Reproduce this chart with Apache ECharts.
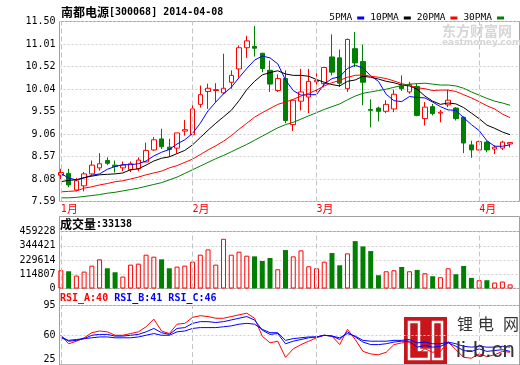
<!DOCTYPE html>
<html><head><meta charset="utf-8">
<script src="https://cdn.jsdelivr.net/npm/echarts@6/dist/echarts.min.js"></script>
<style>html,body{margin:0;padding:0;background:#fff}#c{width:520px;height:365px}</style>
</head><body><div id="c"></div>
<script>
// ---------- DATA ----------
const stockName = '南都电源';
const stockCode = '300068';
const chartDate = '2014-04-08';
const dates = [
 '2014-01-08','2014-01-09','2014-01-10','2014-01-13','2014-01-14','2014-01-15','2014-01-16','2014-01-17','2014-01-20','2014-01-21',
 '2014-01-22','2014-01-23','2014-01-24','2014-01-27','2014-01-28','2014-01-29','2014-01-30',
 '2014-02-07','2014-02-10','2014-02-11','2014-02-12','2014-02-13','2014-02-14','2014-02-17','2014-02-18','2014-02-19',
 '2014-02-20','2014-02-21','2014-02-24','2014-02-25','2014-02-26','2014-02-27','2014-02-28',
 '2014-03-03','2014-03-04','2014-03-05','2014-03-06','2014-03-07','2014-03-10','2014-03-11','2014-03-12','2014-03-13',
 '2014-03-14','2014-03-17','2014-03-18','2014-03-19','2014-03-20','2014-03-21','2014-03-24','2014-03-25','2014-03-26',
 '2014-03-27','2014-03-28','2014-03-31',
 '2014-04-01','2014-04-02','2014-04-03','2014-04-04','2014-04-08'
];
const opens  = [8.16,8.20,7.84,7.93,8.19,8.32,8.48,8.38,8.32,8.28, 8.30,8.45,8.71,8.95,8.77,8.75,9.12,9.04,9.70,9.98,
                10.00,9.95,10.18,10.47,10.93,10.96,10.81,10.44,10.00,10.26, 9.26,9.77,9.86,10.19,10.15,10.73,10.71,10.04,10.91,10.63,
                9.59,9.62,9.55,9.60,10.10,9.97,10.09,9.39,9.65,9.51, 9.69,9.62,9.42,8.82,8.71,8.88,8.73,8.75,8.84];
const closes = [8.22,7.95,8.04,8.19,8.38,8.41,8.42,8.35,8.38,8.41, 8.49,8.70,8.93,8.78,8.72,9.08,9.15,9.60,9.91,10.05,
                10.02,10.05,10.33,10.93,11.08,10.92,10.48,10.14,10.26,9.35, 9.79,9.97,10.20,10.22,10.50,10.40,10.16,11.11,10.60,10.18,
                9.57,9.55,9.70,9.92,10.04,10.13,9.46,9.64,9.50,9.53, 9.79,9.39,8.86,8.71,8.89,8.71,8.77,8.88,8.87];
const lows   = [8.08,7.90,7.81,7.81,8.17,8.26,8.38,8.22,8.25,8.23, 8.25,8.44,8.69,8.73,8.56,8.64,9.02,9.02,9.63,9.60,
                9.75,9.92,10.04,10.28,10.71,10.74,10.40,9.97,9.97,9.29, 9.12,9.57,9.51,9.97,10.07,10.33,10.08,9.97,10.51,9.68,
                9.20,9.33,9.51,9.53,9.99,9.93,9.44,9.24,9.46,9.31, 9.64,9.35,8.64,8.54,8.70,8.66,8.62,8.71,8.76];
const highs  = [8.30,8.30,8.10,8.23,8.48,8.64,8.55,8.48,8.46,8.46, 8.55,8.87,8.99,9.17,8.95,9.08,9.36,9.76,10.11,10.15,
                10.16,10.80,10.44,10.98,11.19,11.40,10.82,10.65,10.35,10.44, 9.79,10.47,10.47,10.44,10.51,11.22,10.89,11.13,11.27,11.00,
                9.81,9.65,9.79,10.02,10.33,10.19,10.15,9.75,9.71,9.58, 10.02,9.64,9.44,8.91,8.91,8.91,8.81,8.91,8.87];
const volumes = [146850,138840,104130,136170,184230,234960,162870,130830,96120,192240,
                 200250,272340,256320,234960,162870,176220,184230,216270,272340,315060,
                 192240,400500,272340,296370,264330,258990,221610,245640,154860,309720,
                 258990,307050,178890,162870,216270,285690,186900,283020,381810,339090,
                 301710,106800,138840,146850,173550,138840,149520,122820,98790,90780,
                 162870,114810,181560,85440,66750,66750,48060,56070,33138];
const ma5  = [8.20,8.10,8.06,8.10,8.16,8.19,8.29,8.35,8.39,8.39, 8.41,8.47,8.58,8.66,8.72,8.84,8.93,9.07,9.29,9.56,
              9.75,9.93,10.07,10.28,10.48,10.66,10.75,10.71,10.58,10.23, 10.00,9.90,9.91,9.91,10.14,10.26,10.30,10.48,10.55,10.49,
              10.32,10.20,9.92,9.78,9.76,9.87,9.85,9.84,9.75,9.65, 9.58,9.57,9.41,9.26,9.13,8.91,8.79,8.79,8.82];
const ma10 = [8.02,8.05,8.06,8.11,8.14,8.17,8.18,8.19,8.21,8.28, 8.30,8.38,8.47,8.53,8.56,8.63,8.70,8.82,8.98,9.14,
              9.29,9.43,9.57,9.78,10.02,10.20,10.34,10.39,10.43,10.36, 10.33,10.33,10.31,10.24,10.18,10.13,10.10,10.20,10.23,10.31,
              10.29,10.25,10.20,10.17,10.12,10.10,10.03,9.88,9.77,9.70, 9.73,9.71,9.63,9.51,9.39,9.25,9.18,9.10,9.04];
const ma20 = [7.80,7.81,7.82,7.88,7.91,7.95,7.98,8.02,8.04,8.08, 8.12,8.17,8.21,8.25,8.32,8.37,8.44,8.51,8.61,8.71,
              8.80,8.90,9.02,9.16,9.29,9.42,9.52,9.61,9.70,9.75, 9.81,9.88,9.94,10.01,10.10,10.17,10.22,10.29,10.33,10.34,
              10.31,10.29,10.26,10.21,10.15,10.11,10.06,10.04,10.00,10.01, 10.01,9.98,9.91,9.84,9.76,9.67,9.60,9.49,9.41];
const ma30 = [7.67,7.67,7.68,7.70,7.72,7.74,7.77,7.79,7.82,7.85, 7.88,7.92,7.96,8.00,8.06,8.12,8.20,8.28,8.36,8.44,
              8.52,8.59,8.67,8.75,8.83,8.92,9.01,9.10,9.19,9.26, 9.31,9.38,9.45,9.52,9.59,9.65,9.71,9.80,9.88,9.94,
              9.97,10.00,10.03,10.07,10.11,10.14,10.15,10.16,10.14,10.12, 10.12,10.10,10.05,9.97,9.90,9.83,9.77,9.73,9.68];
const rsiA = [60,50,53,57,63,65,64,60,60,62, 64,70,79,65,62,73,74,81,83,82, 80,80,82,84,86,80,59,51,53,34,
              44,49,53,57,60,59,49,67,55,41, 38,37,40,49,51,52,38,44,40,41, 52,43,34,33,38,35,37,41,40];
const rsiB = [59,53,54,56,60,61,61,59,59,60, 61,64,68,63,61,68,69,74,76,76, 75,76,78,80,82,78,66,61,62,50,
              53,55,57,58,60,59,55,64,58,52, 49,49,50,52,53,53,46,48,46,47, 51,47,42,41,44,41,42,43,41];
const rsiC = [57,54,55,56,57,58,58,57,57,57, 58,60,62,60,60,64,65,68,69,69, 69,70,71,73,74,73,67,63,63,54,
              56,57,58,58,60,59,57,62,59,54, 53,53,53,54,54,55,51,52,50,50, 52,50,47,46,47,46,46,47,46];
const priceTicks = ['7.59','8.08','8.57','9.06','9.55','10.04','10.52','11.01','11.50'];
const volTicks = [0,114807,229614,344421,459228];
const rsiTicks = ['25','60','95'];
const monthStarts = ['2014-01-08','2014-02-07','2014-03-03','2014-04-01'];
const monthLabels = ['1月','2月','3月','4月'];
const maNames = ['5PMA','10PMA','20PMA','30PMA'];

// ---------- CHART ----------
const GRAY = '#a0a0a0', GRIDC = '#cfcfcf', RED = '#ff0000', GREEN = '#008000', BLUE = '#0000ff';
const MONO = '"DejaVu Sans Mono"', CJK = '"Noto Sans CJK SC"';
const chart = echarts.init(document.getElementById('c'));
const kData = dates.map((d, i) => [opens[i], closes[i], lows[i], highs[i]]);
const volData = volumes.map((v, i) => ({
  value: v,
  itemStyle: closes[i] >= opens[i]
    ? {color: 'rgba(255,255,255,0)', borderColor: RED, borderWidth: 1}
    : {color: GREEN, borderColor: GREEN, borderWidth: 0}
}));
const monthLine = () => ({
  symbol: 'none', silent: true, animation: false, label: {show: false},
  emphasis: {disabled: true},
  lineStyle: {color: '#c4c4c4', type: [5, 3], width: 1},
  data: monthStarts.map(d => ({xAxis: d}))
});
const frame = (top, height) => ({left: 59.5, top, width: 460, height, show: true,
  borderColor: GRAY, borderWidth: 1, backgroundColor: 'rgba(0,0,0,0)'});
const dataGrid = (top, height) => ({left: 57, width: 457, top, height});
const lbl = {fontFamily: MONO, fontSize: 10, color: '#000', margin: 4};
const split = {show: true, lineStyle: {color: GRIDC, type: [2, 2], width: 1}};
const maColors = [BLUE, '#000000', RED, GREEN];
const maData = [ma5, ma10, ma20, ma30];

const option = {
  animation: false,
  textStyle: {fontFamily: MONO},
  grid: [
    dataGrid(21.5, 180), dataGrid(231.5, 57), dataGrid(305.5, 61),
    frame(21.5, 180), frame(216.5, 72), frame(231.5, 57), frame(288.5, 80), frame(305.5, 61)
  ],
  xAxis: [
    {type: 'category', gridIndex: 0, data: dates, boundaryGap: true,
     axisLine: {show: false}, axisTick: {show: false}, splitLine: {show: false},
     axisLabel: {
       interval: (idx, val) => monthStarts.indexOf(val) >= 0,
       formatter: (val) => {
         const s = monthLabels[monthStarts.indexOf(val)] || '';
         return '{n|' + s.slice(0, -1) + '}{m|' + s.slice(-1) + '}';
       },
       align: 'left', margin: 2, color: RED,
       rich: {n: {fontFamily: MONO, fontSize: 10, color: RED}, m: {fontFamily: CJK, fontSize: 11, color: RED}}
     }},
    {type: 'category', gridIndex: 1, data: dates, boundaryGap: true, show: false},
    {type: 'category', gridIndex: 2, data: dates, boundaryGap: true, show: false},
    {type: 'value', gridIndex: 3, min: 0, max: 1, show: false},
    {type: 'value', gridIndex: 5, min: 0, max: 1, show: false},
    {type: 'value', gridIndex: 7, min: 0, max: 1, show: false}
  ],
  yAxis: [
    {type: 'value', gridIndex: 0, min: 7.59, max: 11.50, show: false},
    {type: 'value', gridIndex: 1, min: 0, max: volTicks[volTicks.length - 1], show: false},
    {type: 'value', gridIndex: 2, min: 25, max: 95, show: false},
    {type: 'value', gridIndex: 3, min: 0, max: priceTicks.length - 1, interval: 1,
     axisLine: {show: false}, axisTick: {show: false}, splitLine: split,
     axisLabel: Object.assign({formatter: v => priceTicks[v]}, lbl)},
    {type: 'value', gridIndex: 5, min: 0, max: volTicks[volTicks.length - 1], interval: volTicks[1],
     axisLine: {show: false}, axisTick: {show: false}, splitLine: split,
     axisLabel: Object.assign({formatter: v => String(v)}, lbl)},
    {type: 'value', gridIndex: 7, min: 0, max: rsiTicks.length - 1, interval: 1,
     axisLine: {show: false}, axisTick: {show: false}, splitLine: split,
     axisLabel: Object.assign({
       formatter: v => v === 0 ? '{lo|' + rsiTicks[0] + '}' : rsiTicks[v],
       rich: {lo: {fontFamily: MONO, fontSize: 10, color: '#000', padding: [0, 0, 11, 0]}}
     }, lbl)}
  ],
  legend: {
    data: maNames, right: 11, top: 8, align: 'right', icon: 'rect',
    itemWidth: 7, itemHeight: 3, itemGap: 6, selectedMode: false,
    textStyle: {fontFamily: MONO, fontSize: 9.5, color: '#000'}
  },
  title: [
    {text: '{c|' + stockName + '}{d|[' + stockCode + '] ' + chartDate + '}', left: 61, top: 6, padding: 0,
     textStyle: {rich: {c: {fontFamily: CJK, fontSize: 12, color: '#000'}, d: {fontFamily: MONO, fontSize: 10, color: '#000'}}}},
    {text: '{c|成交量}{d|:' + volumes[volumes.length - 1] + '}', left: 60, top: 218, padding: 0,
     textStyle: {rich: {c: {fontFamily: CJK, fontSize: 12, color: '#000'}, d: {fontFamily: MONO, fontSize: 10, color: '#000'}}}},
    {text: '{a|RSI_A:' + rsiA[rsiA.length - 1] + '} {b|RSI_B:' + rsiB[rsiB.length - 1] + '} {c|RSI_C:' + rsiC[rsiC.length - 1] + '}',
     left: 60, top: 293, padding: 0,
     textStyle: {fontFamily: MONO, fontSize: 10, rich: {
       a: {fontFamily: MONO, fontSize: 10, color: RED},
       b: {fontFamily: MONO, fontSize: 10, color: BLUE},
       c: {fontFamily: MONO, fontSize: 10, color: BLUE}}}}
  ],
  graphic: [
    {type: 'text', x: 442, y: 24, z: 0, silent: true,
     style: {text: '东方财富网', font: 'bold 14px "Noto Sans CJK SC"', fill: '#d6d6d6'}},
    {type: 'text', x: 442, y: 38, z: 0, silent: true,
     style: {text: 'eastmoney.com', font: 'bold 9px "DejaVu Sans"', fill: '#d6d6d6'}},
    {type: 'group', x: 404, y: 317, z: 100, silent: true, children: [
      {type: 'rect', shape: {x: 0, y: 0, width: 43, height: 47}, style: {fill: '#c8161d'}},
      {type: 'polygon', shape: {points: [[5, 5], [15, 5], [15, 33], [25, 33], [25, 42], [5, 42]]},
       style: {fill: '#c8161d', stroke: '#ffffff', lineWidth: 2.5}},
      {type: 'rect', shape: {x: 29, y: 5, width: 9, height: 37},
       style: {fill: '#c8161d', stroke: '#ffffff', lineWidth: 2.5}}
    ]},
    {type: 'text', x: 457, y: 316, z: 100, silent: true, style: {text: '锂', font: '16px "Noto Sans CJK SC"', fill: '#333'}},
    {type: 'text', x: 478, y: 316, z: 100, silent: true, style: {text: '电', font: '16px "Noto Sans CJK SC"', fill: '#333'}},
    {type: 'text', x: 503, y: 316, z: 100, silent: true, style: {text: '网', font: '16px "Noto Sans CJK SC"', fill: '#333'}},
    {type: 'text', x: 456, y: 340, z: 100, silent: true, style: {text: 'li-b.cn', font: '22px "Liberation Sans"', fill: '#333'}}
  ],
  series: [
    {type: 'candlestick', name: 'K', xAxisIndex: 0, yAxisIndex: 0, data: kData, barWidth: 5,
     itemStyle: {color: 'rgba(255,255,255,0)', color0: GREEN, borderColor: RED, borderColor0: GREEN, borderWidth: 1},
     markLine: monthLine(), z: 2},
    ...maNames.map((n, k) => ({
      type: 'line', name: n, xAxisIndex: 0, yAxisIndex: 0, data: maData[k], symbol: 'none',
      color: maColors[k], lineStyle: {color: maColors[k], width: 1}, z: 3
    })),
    {type: 'bar', name: 'VOL', xAxisIndex: 1, yAxisIndex: 1, data: volData, barWidth: 5, markLine: monthLine()},
    {type: 'line', name: 'RSI_A', xAxisIndex: 2, yAxisIndex: 2, data: rsiA, symbol: 'none',
     lineStyle: {color: RED, width: 1}, markLine: monthLine()},
    {type: 'line', name: 'RSI_B', xAxisIndex: 2, yAxisIndex: 2, data: rsiB, symbol: 'none', lineStyle: {color: BLUE, width: 1}},
    {type: 'line', name: 'RSI_C', xAxisIndex: 2, yAxisIndex: 2, data: rsiC, symbol: 'none', lineStyle: {color: BLUE, width: 1}}
  ]
};
chart.setOption(option);
</script>
</body></html>
